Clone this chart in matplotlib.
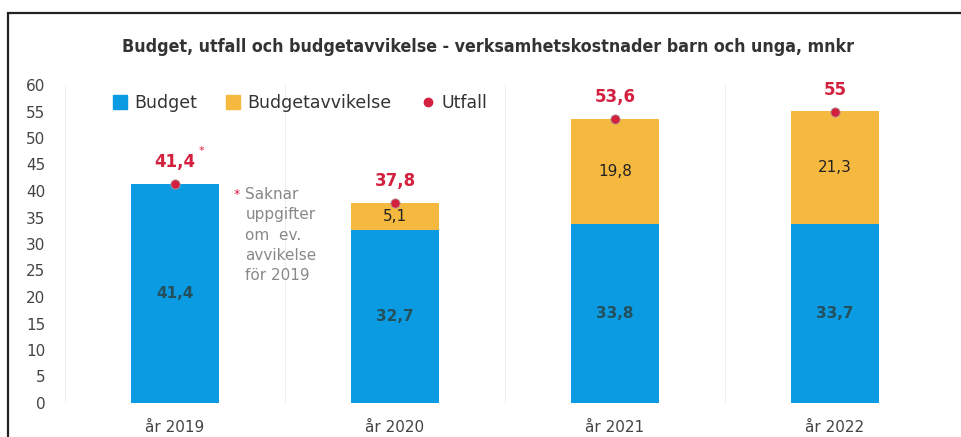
import matplotlib.pyplot as plt
from matplotlib.patches import Rectangle
from matplotlib.lines import Line2D

years = ['år 2019', 'år 2020', 'år 2021', 'år 2022']
budget = [41.4, 32.7, 33.8, 33.7]
avvikelse = [0.0, 5.1, 19.8, 21.3]
utfall = [41.4, 37.8, 53.6, 55.0]
budget_labels = ['41,4', '32,7', '33,8', '33,7']
avvikelse_labels = ['', '5,1', '19,8', '21,3']
utfall_labels = ['41,4', '37,8', '53,6', '55']

BLUE = '#0a9be3'
ORANGE = '#f6b93f'
RED = '#d3203f'

plt.rcParams['font.family'] = ['DejaVu Sans']

fig = plt.figure(figsize=(9.62, 4.37), dpi=100)
ax = fig.add_axes([65 / 962, 34 / 437, 880 / 962, 318 / 437])

x = range(len(years))
ax.bar(x, budget, width=0.4, color=BLUE, zorder=2)
ax.bar(x, avvikelse, width=0.4, bottom=budget, color=ORANGE, zorder=2)
ax.scatter(x, utfall, s=45, color=RED, edgecolor='#b0a0a0', linewidth=0.6, zorder=4)

for i in x:
    ax.text(i, budget[i] / 2, budget_labels[i], ha='center', va='center',
            fontsize=11, fontweight='bold', color='#24505c', zorder=5)
    if avvikelse[i] > 0:
        ax.text(i, budget[i] + avvikelse[i] / 2, avvikelse_labels[i], ha='center',
                va='center', fontsize=11, color='#222222', zorder=5)
    ax.annotate(utfall_labels[i], (i, utfall[i]), xytext=(0, 9), textcoords='offset points',
                ha='center', va='bottom', fontsize=12, fontweight='bold', color=RED)

# asterisk on 2019 value
ax.annotate('*', (0, utfall[0]), xytext=(19, 20), textcoords='offset points',
            ha='center', va='bottom', fontsize=8, color=RED)

# note for 2019
ax.text(0.265, 40.6, '*', ha='left', va='top', fontsize=9, color=RED)
ax.text(0.32, 40.8, 'Saknar\nuppgifter\nom  ev.\navvikelse\nför 2019', ha='left', va='top',
        fontsize=11, color='#888888', linespacing=1.45)

ax.set_xlim(-0.5, 3.5)
ax.set_ylim(0, 60)
ax.set_yticks(range(0, 61, 5))
ax.set_xticks(list(x))
ax.set_xticklabels(years)
ax.tick_params(axis='both', length=0, labelsize=11, labelcolor='#444444')
ax.tick_params(axis='x', pad=12)
ax.tick_params(axis='y', pad=14)
for s in ax.spines.values():
    s.set_visible(False)
for b in [-0.5, 0.5, 1.5, 2.5, 3.5]:
    ax.axvline(b, color='#eeeeee', linewidth=0.8, zorder=0)

handles = [
    Line2D([], [], marker='s', linestyle='none', markersize=10, color=BLUE),
    Line2D([], [], marker='s', linestyle='none', markersize=10, color=ORANGE),
    Line2D([], [], marker='o', linestyle='none', markersize=6, color=RED),
]
ax.legend(handles, ['Budget', 'Budgetavvikelse', 'Utfall'], loc='upper left',
          bbox_to_anchor=(0.035, 1.02), ncol=3, frameon=False, fontsize=12.5,
          handlelength=1.0, handletextpad=0.3, columnspacing=1.6, labelcolor='#333333')

fig.text(0.507, 0.892, 'Budget, utfall och budgetavvikelse - verksamhetskostnader barn och unga, mnkr',
         ha='center', va='center', fontsize=12.8, color='#333333', fontstretch='condensed',
         fontweight='bold')

# outer frame
fig.patches.append(Rectangle((8 / 962, -0.05), 1.0, (437 - 13) / 437 + 0.05,
                             transform=fig.transFigure, fill=False,
                             edgecolor='#222222', linewidth=1.6))

fig.savefig('out.png', dpi=100)
